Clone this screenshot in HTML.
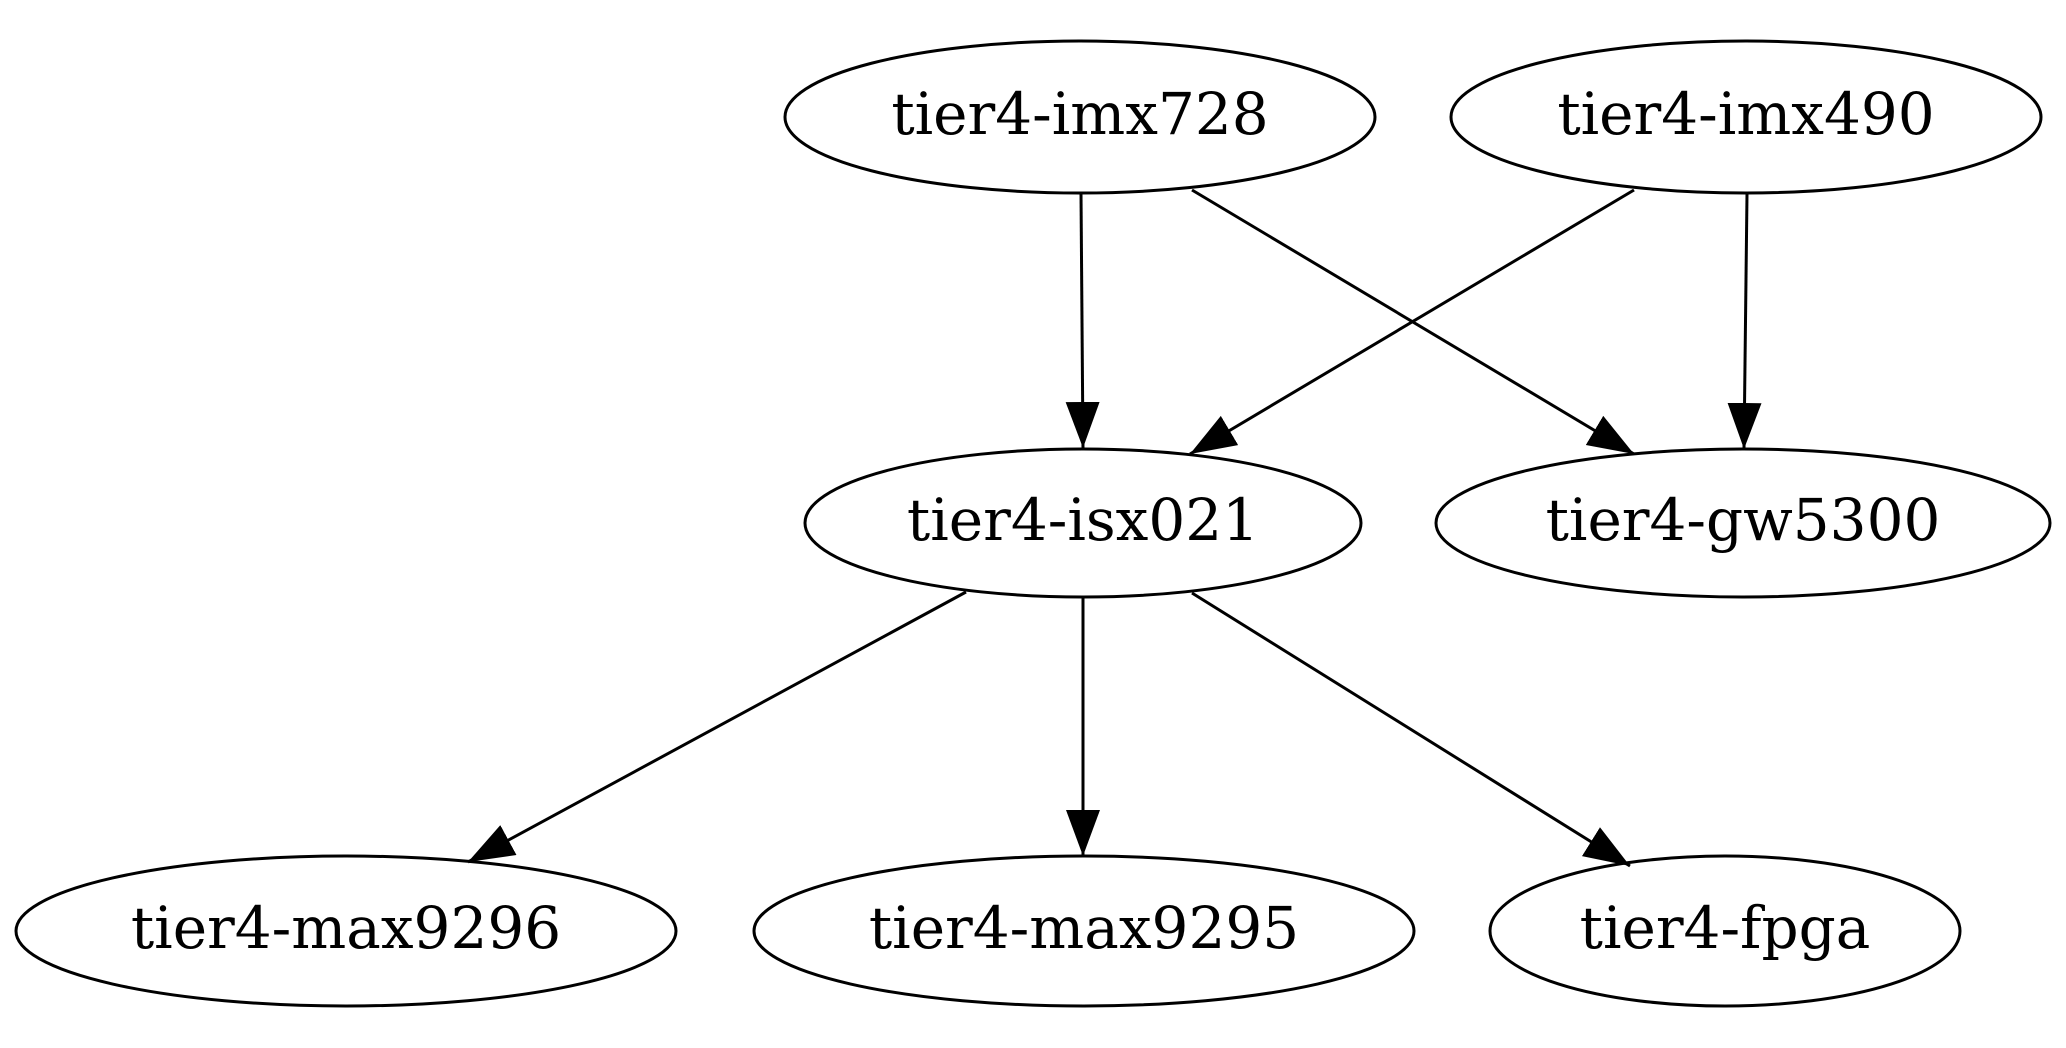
<!DOCTYPE html>
<html><head><meta charset="utf-8"><style>
html,body{margin:0;padding:0;background:#fff;}
svg{display:block;}
text{font-family:"DejaVu Serif","Liberation Serif",serif;font-size:58px;fill:#000;text-anchor:middle;}
</style></head><body>
<svg width="2066" height="1048" viewBox="0 0 2066 1048" xmlns="http://www.w3.org/2000/svg">
<defs>
<marker id="a" markerUnits="userSpaceOnUse" markerWidth="48" markerHeight="36" refX="46" refY="17" orient="auto">
<path d="M0,0 L46,17 L0,34 Z" fill="#000"/>
</marker>
</defs>
<g fill="none" stroke="#000" stroke-width="3">
<ellipse cx="1080" cy="117" rx="295" ry="76"/>
<ellipse cx="1746" cy="117" rx="295" ry="76"/>
<ellipse cx="1083" cy="523" rx="278" ry="74"/>
<ellipse cx="1743" cy="523" rx="307" ry="74"/>
<ellipse cx="346" cy="931" rx="330" ry="75"/>
<ellipse cx="1084" cy="931" rx="330" ry="75"/>
<ellipse cx="1725" cy="931" rx="235" ry="75"/>
<line x1="1081" y1="194" x2="1083" y2="448" marker-end="url(#a)"/>
<line x1="1192" y1="190" x2="1634" y2="454" marker-end="url(#a)"/>
<line x1="1634" y1="190" x2="1190" y2="454" marker-end="url(#a)"/>
<line x1="1747" y1="194" x2="1744" y2="449" marker-end="url(#a)"/>
<line x1="966" y1="592" x2="468" y2="862" marker-end="url(#a)"/>
<line x1="1083" y1="598" x2="1083" y2="856" marker-end="url(#a)"/>
<line x1="1192" y1="593" x2="1630" y2="866" marker-end="url(#a)"/>
</g>
<text x="1080" y="134">tier4-imx728</text>
<text x="1746" y="134">tier4-imx490</text>
<text x="1083" y="540">tier4-isx021</text>
<text x="1743" y="540">tier4-gw5300</text>
<text x="346" y="948">tier4-max9296</text>
<text x="1084" y="948">tier4-max9295</text>
<text x="1725" y="948">tier4-fpga</text>
</svg>
</body></html>
